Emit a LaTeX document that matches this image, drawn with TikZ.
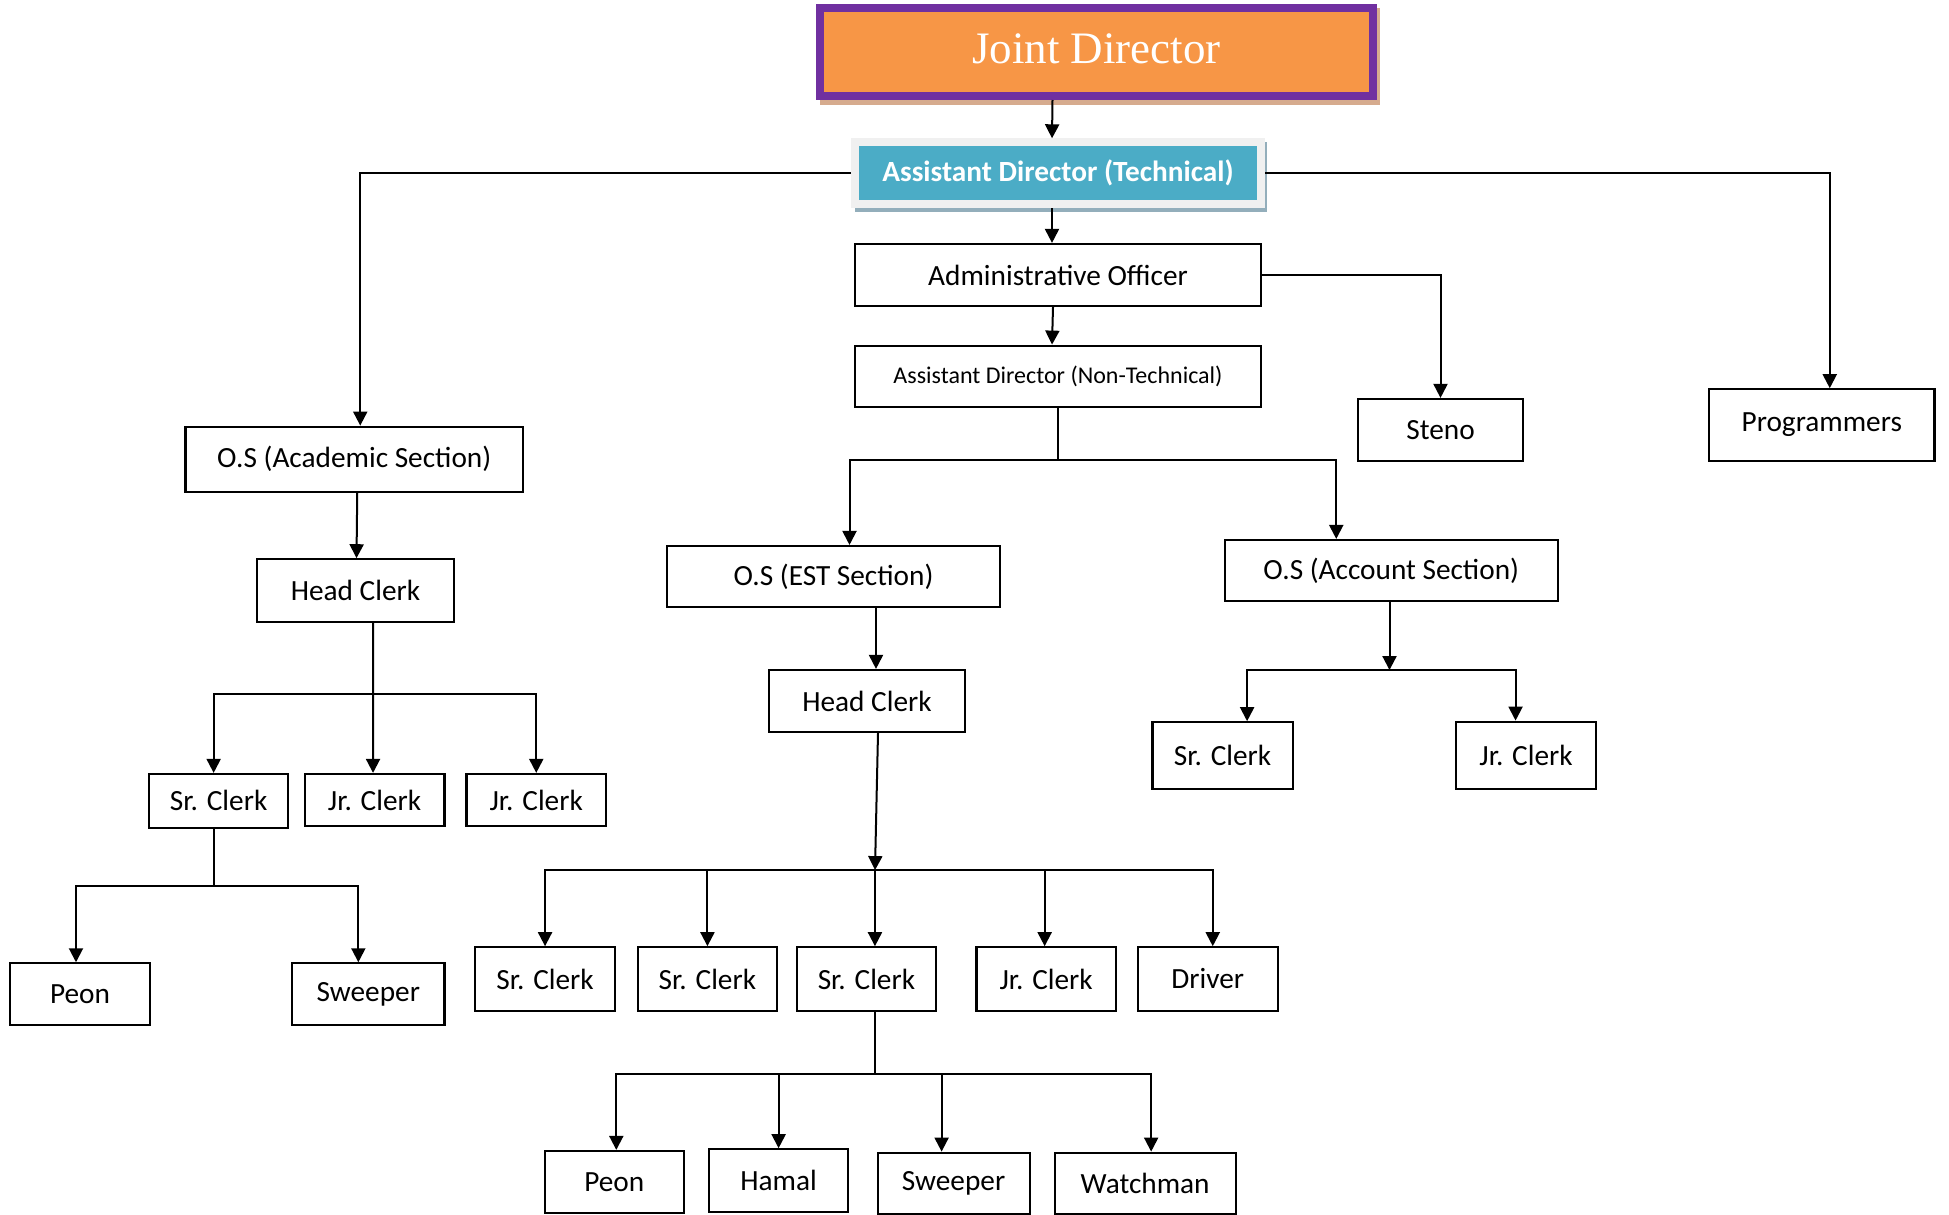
\documentclass[tikz,border=0pt]{standalone}
\usepackage{fontspec}
\setmainfont{Carlito}
\newfontfamily\jdfont{Liberation Serif}
\usetikzlibrary{arrows.meta,calc,backgrounds}
\definecolor{jdorange}{HTML}{F79646}
\definecolor{jdpurple}{HTML}{7030A0}
\definecolor{jdshadow}{HTML}{D6AB8E}
\definecolor{adteal}{HTML}{4BACC6}
\definecolor{adframe}{HTML}{F0F0F0}
\definecolor{adshadow}{HTML}{93AEBB}
\begin{document}
\begin{tikzpicture}[x=1pt,y=-1pt,
  box/.style={draw=black, line width=2.2pt, inner sep=0pt, align=center,
              font=\fontsize{29.3}{35}\selectfont},
  arr/.style={line width=2pt, -{Triangle[length=14pt,width=14pt]}},
  ln/.style={line width=2pt}]
\useasboundingbox (0,0) rectangle (1949,1215);

% top
\node[minimum width=553pt, minimum height=88pt, draw=jdpurple, fill=jdorange,
      line width=8pt, text=white, font=\jdfont\fontsize{45}{50}\selectfont] (jd) at (1096.5,52) {\raisebox{6pt}{Joint Director}};
\node[minimum width=406pt, minimum height=62pt, draw=adframe, fill=adteal,
      line width=8pt, text=white, font=\bfseries\fontsize{29.3}{35}\selectfont] (ad) at (1058,173.3) {Assistant Director (Technical)};
\begin{scope}[on background layer]
  \fill[jdshadow] ($(jd.north west)+(4,4)$) rectangle ($(jd.south east)+(3,5)$);
  \fill[adshadow] ($(ad.north west)+(4,4)$) rectangle ($(ad.south east)+(2,3.5)$);
\end{scope}

\node[box, minimum width=406pt, minimum height=62pt] (ao) at (1058,275) {Administrative Officer};
\node[box, minimum width=406pt, minimum height=61pt, font=\fontsize{24}{29}\selectfont] (adnt) at (1058,376.2) {Assistant Director (Non-Technical)};
\node[box, minimum width=165pt, minimum height=62pt] (steno) at (1440.5,430) {Steno};
\node[box, minimum width=225.5pt, minimum height=71.4pt] (prog) at (1821.75,425) {Programmers};

% academic section
\node[box, minimum width=337.5pt, minimum height=65pt] (osa) at (354.25,459.2) {O.S (Academic Section)};
\node[box, minimum width=197pt, minimum height=62.4pt] (hca) at (355.5,590.5) {Head Clerk};
\node[box, minimum width=138.7pt, minimum height=53.7pt] (sra) at (218.65,800.85) {Sr. Clerk};
\node[box, minimum width=139.7pt, minimum height=52pt] (jra1) at (374.55,800) {Jr. Clerk};
\node[box, minimum width=139.7pt, minimum height=52pt] (jra2) at (536.25,800) {Jr. Clerk};
\node[box, minimum width=139.3pt, minimum height=61.7pt] (peona) at (80,994.2) {Peon};
\node[box, minimum width=152.1pt, minimum height=61.7pt] (sweepa) at (368.35,994.2) {Sweeper};

% EST section
\node[box, minimum width=333.7pt, minimum height=61.3pt] (ose) at (833.5,576.7) {O.S (EST Section)};
\node[box, minimum width=196pt, minimum height=62pt] (hce) at (867,701) {Head Clerk};
\node[box, minimum width=139.5pt, minimum height=63.4pt] (sre1) at (545.05,979) {Sr. Clerk};
\node[box, minimum width=139.5pt, minimum height=63.4pt] (sre2) at (707.45,979) {Sr. Clerk};
\node[box, minimum width=139.5pt, minimum height=63.4pt] (sre3) at (866.45,979) {Sr. Clerk};
\node[box, minimum width=139.5pt, minimum height=63.4pt] (jre) at (1046.15,979) {Jr. Clerk};
\node[box, minimum width=140.1pt, minimum height=63.4pt] (drv) at (1207.75,979) {Driver};
\node[box, minimum width=138.8pt, minimum height=61.7pt] (peone) at (614.3,1181.85) {Peon};
\node[box, minimum width=138.8pt, minimum height=62.4pt] (hamal) at (778.6,1180.5) {Hamal};
\node[box, minimum width=152pt, minimum height=61.3pt] (sweepe) at (953.6,1183.35) {Sweeper};
\node[box, minimum width=181.1pt, minimum height=61.3pt] (watch) at (1145.15,1183.35) {Watchman};

% account section
\node[box, minimum width=332.7pt, minimum height=60.7pt] (acct) at (1391.25,570.4) {O.S (Account Section)};
\node[box, minimum width=140.2pt, minimum height=66.4pt] (srac) at (1222.6,755.5) {Sr. Clerk};
\node[box, minimum width=139.7pt, minimum height=67.3pt] (jrac) at (1526.05,755.35) {Jr. Clerk};

% connectors top
\draw[arr] ([xshift=-44pt]jd.south) -- ([xshift=-6pt]ad.north);
\draw[arr] ([xshift=-6pt]ad.south) -- ([xshift=-6pt]ao.north);
\draw[arr] ([xshift=-5pt]ao.south) -- ([xshift=-6pt]adnt.north);
\draw[arr] (ao.east) -| (steno.north);
\draw[arr] (ad.east) -| ([xshift=8pt]prog.north);
\draw[arr] (ad.west) -| ([xshift=6pt]osa.north);

\coordinate (j1) at ($(adnt.south)+(0,52.2)$);
\draw[ln] (adnt.south) -- (j1);
\draw[arr] (j1) -| ([xshift=16pt]ose.north);
\draw[arr] (j1) -| ([xshift=-55pt]acct.north);

% academic connectors
\draw[arr] ([xshift=3pt]osa.south) -- ([xshift=1pt]hca.north);
\coordinate (j2) at ($(hca.south)+(17.5,71)$);
\draw[arr] ([xshift=17.5pt]hca.south) -- ([xshift=-1.5pt]jra1.north);
\draw[arr] (j2) -| ([xshift=-5pt]sra.north);
\draw[arr] (j2) -| (jra2.north);
\coordinate (j3) at ($(sra.south)+(-4.3,57)$);
\draw[ln] ([xshift=-4.3pt]sra.south) -- (j3);
\draw[arr] (j3) -| ([xshift=-4pt]peona.north);
\draw[arr] (j3) -| ([xshift=-10pt]sweepa.north);

% EST connectors
\draw[arr] ([xshift=42.5pt]ose.south) -- ([xshift=9pt]hce.north);
\coordinate (j4) at ($(hce.south)+(8,137)$);
\draw[arr] ([xshift=11pt]hce.south) -- (j4);
\draw[arr] (j4) -| (sre1.north);
\draw[arr] (j4) -| (sre2.north);
\draw[arr] (j4) -| ([xshift=8.5pt]sre3.north);
\draw[arr] (j4) -| ([xshift=-1.5pt]jre.north);
\draw[arr] (j4) -| ([xshift=5pt]drv.north);
\coordinate (j5) at ($(sre3.south)+(8.5,62.5)$);
\draw[ln] ([xshift=8.5pt]sre3.south) -- (j5);
\draw[arr] (j5) -| ([xshift=2pt]peone.north);
\draw[arr] (j5) -| (hamal.north);
\draw[arr] (j5) -| ([xshift=-12pt]sweepe.north);
\draw[arr] (j5) -| ([xshift=6pt]watch.north);

% account connectors
\coordinate (j6) at ($(acct.south)+(-1.75,68.2)$);
\draw[arr] ([xshift=-1.75pt]acct.south) -- (j6);
\draw[arr] (j6) -| ([xshift=24.5pt]srac.north);
\draw[arr] (j6) -| ([xshift=-10.5pt]jrac.north);
\end{tikzpicture}
\end{document}
